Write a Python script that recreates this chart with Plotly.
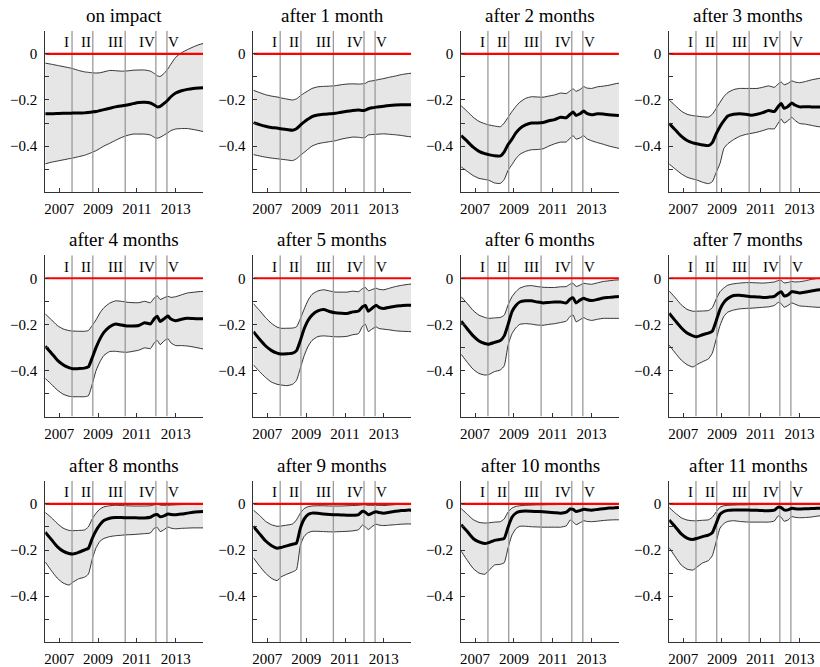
import plotly.graph_objects as go

# ---------------- data ----------------
DATES = [2006.28, 2006.6, 2006.9, 2007.2, 2007.5, 2007.7, 2008.0, 2008.3, 2008.5, 2008.7,
         2008.9, 2009.1, 2009.3, 2009.6, 2009.9, 2010.2, 2010.5, 2010.8, 2011.1, 2011.4,
         2011.7, 2011.9, 2012.05, 2012.2, 2012.4, 2012.6, 2012.75, 2013.0, 2013.3, 2013.6,
         2013.9, 2014.2, 2014.41]

EVENT_DATES = [2007.66, 2008.73, 2010.40, 2011.98, 2012.55]
EVENT_LABELS = ["I", "II", "III", "IV", "V"]
EVENT_LABEL_X = [2007.38, 2008.37, 2009.88, 2011.52, 2012.87]

TITLES = ["on impact", "after 1 month", "after 2 months", "after 3 months",
          "after 4 months", "after 5 months", "after 6 months", "after 7 months",
          "after 8 months", "after 9 months", "after 10 months", "after 11 months"]

X_TICKS = [2007, 2009, 2011, 2013]
Y_TICKS = [0.1, 0.0, -0.1, -0.2, -0.3, -0.4, -0.5, -0.6]
Y_TICK_TEXT = ["", "0", "", "\u22120.2", "", "\u22120.4", "", ""]

h0_up = [-0.040, -0.045, -0.050, -0.055, -0.060, -0.064, -0.072, -0.078, -0.080, -0.082, -0.083, -0.082, -0.078, -0.072, -0.073, -0.075, -0.074, -0.071, -0.070, -0.070, -0.075, -0.085, -0.095, -0.098, -0.085, -0.065, -0.045, -0.015, 0.005, 0.018, 0.030, 0.040, 0.045]
h0_med = [-0.260, -0.260, -0.259, -0.258, -0.258, -0.257, -0.257, -0.256, -0.254, -0.252, -0.250, -0.246, -0.242, -0.236, -0.230, -0.226, -0.222, -0.216, -0.211, -0.210, -0.213, -0.222, -0.230, -0.228, -0.215, -0.200, -0.186, -0.170, -0.160, -0.154, -0.150, -0.148, -0.147]
h0_lo = [-0.477, -0.470, -0.465, -0.460, -0.455, -0.452, -0.446, -0.440, -0.434, -0.427, -0.420, -0.410, -0.400, -0.388, -0.375, -0.363, -0.354, -0.348, -0.348, -0.348, -0.352, -0.362, -0.366, -0.362, -0.352, -0.342, -0.333, -0.326, -0.324, -0.324, -0.328, -0.333, -0.337]

h1_up = [-0.158, -0.168, -0.177, -0.183, -0.187, -0.191, -0.196, -0.200, -0.195, -0.182, -0.170, -0.160, -0.150, -0.143, -0.141, -0.140, -0.138, -0.134, -0.131, -0.130, -0.131, -0.130, -0.128, -0.120, -0.117, -0.114, -0.111, -0.107, -0.101, -0.096, -0.090, -0.086, -0.084]
h1_med = [-0.298, -0.307, -0.314, -0.319, -0.322, -0.325, -0.328, -0.331, -0.325, -0.309, -0.295, -0.283, -0.272, -0.265, -0.262, -0.260, -0.258, -0.253, -0.249, -0.246, -0.244, -0.246, -0.244, -0.238, -0.234, -0.231, -0.229, -0.227, -0.224, -0.222, -0.221, -0.221, -0.221]
h1_lo = [-0.437, -0.443, -0.448, -0.452, -0.455, -0.457, -0.460, -0.463, -0.455, -0.440, -0.427, -0.413, -0.400, -0.390, -0.385, -0.381, -0.377, -0.370, -0.365, -0.361, -0.362, -0.364, -0.362, -0.352, -0.350, -0.349, -0.348, -0.347, -0.349, -0.351, -0.354, -0.358, -0.360]

h2_up = [-0.225, -0.250, -0.275, -0.293, -0.303, -0.308, -0.313, -0.316, -0.300, -0.275, -0.250, -0.228, -0.210, -0.193, -0.186, -0.187, -0.188, -0.183, -0.178, -0.170, -0.172, -0.160, -0.152, -0.162, -0.155, -0.142, -0.148, -0.150, -0.143, -0.140, -0.136, -0.130, -0.127]
h2_med = [-0.355, -0.380, -0.405, -0.423, -0.433, -0.437, -0.442, -0.443, -0.425, -0.393, -0.370, -0.343, -0.324, -0.308, -0.300, -0.300, -0.298, -0.290, -0.285, -0.275, -0.277, -0.262, -0.252, -0.267, -0.260, -0.248, -0.258, -0.264, -0.260, -0.261, -0.264, -0.266, -0.267]
h2_lo = [-0.490, -0.510, -0.528, -0.540, -0.545, -0.548, -0.560, -0.562, -0.545, -0.505, -0.480, -0.455, -0.436, -0.423, -0.416, -0.415, -0.412, -0.400, -0.390, -0.383, -0.382, -0.365, -0.355, -0.370, -0.365, -0.355, -0.368, -0.377, -0.385, -0.392, -0.400, -0.406, -0.410]

h3_up = [-0.200, -0.225, -0.248, -0.262, -0.268, -0.270, -0.273, -0.274, -0.262, -0.237, -0.210, -0.185, -0.168, -0.155, -0.150, -0.150, -0.150, -0.150, -0.145, -0.139, -0.145, -0.130, -0.122, -0.134, -0.128, -0.117, -0.122, -0.125, -0.120, -0.113, -0.108, -0.104, -0.102]
h3_med = [-0.302, -0.330, -0.357, -0.376, -0.386, -0.390, -0.395, -0.398, -0.385, -0.347, -0.315, -0.290, -0.270, -0.262, -0.260, -0.262, -0.266, -0.262, -0.255, -0.246, -0.250, -0.228, -0.215, -0.236, -0.228, -0.213, -0.222, -0.230, -0.229, -0.230, -0.231, -0.231, -0.231]
h3_lo = [-0.478, -0.500, -0.520, -0.535, -0.543, -0.547, -0.557, -0.563, -0.555, -0.515, -0.475, -0.410, -0.390, -0.372, -0.358, -0.350, -0.345, -0.340, -0.333, -0.325, -0.325, -0.300, -0.283, -0.300, -0.290, -0.275, -0.288, -0.302, -0.305, -0.310, -0.315, -0.318, -0.320]

h4_up = [-0.155, -0.180, -0.205, -0.220, -0.227, -0.229, -0.230, -0.230, -0.227, -0.205, -0.180, -0.150, -0.128, -0.108, -0.098, -0.100, -0.104, -0.106, -0.106, -0.100, -0.106, -0.085, -0.076, -0.092, -0.085, -0.078, -0.083, -0.080, -0.072, -0.064, -0.061, -0.058, -0.057]
h4_med = [-0.295, -0.325, -0.355, -0.375, -0.388, -0.393, -0.392, -0.390, -0.385, -0.345, -0.300, -0.263, -0.235, -0.210, -0.198, -0.203, -0.207, -0.207, -0.205, -0.193, -0.198, -0.175, -0.165, -0.188, -0.176, -0.164, -0.177, -0.184, -0.178, -0.174, -0.175, -0.176, -0.176]
h4_lo = [-0.435, -0.460, -0.485, -0.503, -0.512, -0.514, -0.514, -0.514, -0.510, -0.460, -0.400, -0.362, -0.335, -0.318, -0.317, -0.320, -0.321, -0.317, -0.312, -0.302, -0.305, -0.280, -0.270, -0.288, -0.272, -0.262, -0.280, -0.292, -0.292, -0.294, -0.298, -0.303, -0.307]

h5_up = [-0.110, -0.140, -0.170, -0.195, -0.212, -0.217, -0.217, -0.216, -0.211, -0.175, -0.133, -0.095, -0.070, -0.055, -0.050, -0.055, -0.060, -0.060, -0.060, -0.056, -0.058, -0.045, -0.040, -0.054, -0.049, -0.043, -0.048, -0.050, -0.043, -0.036, -0.031, -0.027, -0.025]
h5_med = [-0.232, -0.265, -0.293, -0.313, -0.325, -0.329, -0.328, -0.325, -0.314, -0.270, -0.218, -0.182, -0.160, -0.142, -0.136, -0.144, -0.150, -0.152, -0.153, -0.146, -0.142, -0.124, -0.118, -0.143, -0.130, -0.117, -0.126, -0.131, -0.126, -0.121, -0.119, -0.117, -0.117]
h5_lo = [-0.376, -0.405, -0.430, -0.450, -0.460, -0.463, -0.466, -0.460, -0.443, -0.390, -0.335, -0.295, -0.270, -0.253, -0.250, -0.252, -0.254, -0.254, -0.252, -0.245, -0.240, -0.208, -0.200, -0.231, -0.220, -0.211, -0.218, -0.221, -0.224, -0.228, -0.230, -0.231, -0.232]

h6_up = [-0.080, -0.110, -0.140, -0.160, -0.170, -0.174, -0.172, -0.170, -0.160, -0.115, -0.080, -0.058, -0.043, -0.034, -0.032, -0.036, -0.039, -0.040, -0.040, -0.037, -0.036, -0.025, -0.022, -0.036, -0.030, -0.022, -0.024, -0.026, -0.020, -0.014, -0.011, -0.008, -0.007]
h6_med = [-0.186, -0.220, -0.250, -0.272, -0.283, -0.286, -0.278, -0.270, -0.250, -0.200, -0.145, -0.118, -0.103, -0.098, -0.098, -0.103, -0.107, -0.105, -0.103, -0.103, -0.107, -0.090, -0.085, -0.107, -0.095, -0.087, -0.092, -0.097, -0.092, -0.086, -0.083, -0.080, -0.079]
h6_lo = [-0.330, -0.365, -0.395, -0.413, -0.420, -0.418, -0.405, -0.398, -0.380, -0.290, -0.240, -0.215, -0.200, -0.197, -0.199, -0.203, -0.204, -0.200, -0.197, -0.192, -0.186, -0.165, -0.160, -0.189, -0.180, -0.171, -0.178, -0.183, -0.178, -0.174, -0.174, -0.174, -0.174]

h7_up = [-0.055, -0.085, -0.115, -0.135, -0.143, -0.143, -0.142, -0.140, -0.128, -0.090, -0.058, -0.042, -0.030, -0.024, -0.021, -0.019, -0.019, -0.020, -0.021, -0.019, -0.016, -0.010, -0.010, -0.020, -0.018, -0.014, -0.016, -0.015, -0.011, -0.005, -0.001, 0.001, 0.002]
h7_med = [-0.152, -0.185, -0.215, -0.238, -0.250, -0.254, -0.245, -0.238, -0.230, -0.185, -0.135, -0.105, -0.088, -0.075, -0.074, -0.077, -0.080, -0.081, -0.083, -0.082, -0.079, -0.065, -0.058, -0.076, -0.072, -0.058, -0.060, -0.064, -0.060, -0.055, -0.051, -0.048, -0.046]
h7_lo = [-0.290, -0.325, -0.355, -0.375, -0.385, -0.375, -0.362, -0.350, -0.325, -0.265, -0.205, -0.165, -0.147, -0.138, -0.133, -0.131, -0.130, -0.128, -0.126, -0.124, -0.118, -0.105, -0.110, -0.126, -0.118, -0.107, -0.112, -0.120, -0.122, -0.124, -0.126, -0.126, -0.126]

h8_up = [-0.037, -0.060, -0.085, -0.105, -0.115, -0.116, -0.115, -0.113, -0.100, -0.065, -0.040, -0.022, -0.013, -0.008, -0.006, -0.007, -0.008, -0.009, -0.009, -0.009, -0.008, -0.004, -0.001, -0.005, -0.006, -0.006, -0.005, -0.004, -0.003, -0.002, -0.001, 0.000, 0.000]
h8_med = [-0.123, -0.155, -0.185, -0.205, -0.215, -0.217, -0.210, -0.200, -0.193, -0.150, -0.115, -0.090, -0.072, -0.062, -0.059, -0.059, -0.060, -0.060, -0.061, -0.061, -0.058, -0.048, -0.046, -0.056, -0.052, -0.044, -0.046, -0.047, -0.044, -0.040, -0.036, -0.034, -0.033]
h8_lo = [-0.252, -0.290, -0.322, -0.343, -0.352, -0.340, -0.325, -0.318, -0.305, -0.240, -0.190, -0.162, -0.150, -0.142, -0.138, -0.136, -0.134, -0.133, -0.131, -0.129, -0.126, -0.105, -0.102, -0.120, -0.112, -0.100, -0.105, -0.108, -0.106, -0.105, -0.104, -0.104, -0.104]

h9_up = [-0.027, -0.050, -0.075, -0.090, -0.097, -0.096, -0.092, -0.087, -0.069, -0.040, -0.020, -0.012, -0.009, -0.008, -0.008, -0.009, -0.009, -0.009, -0.008, -0.007, -0.006, -0.004, -0.004, -0.006, -0.006, -0.006, -0.006, -0.007, -0.005, -0.003, -0.001, 0.000, 0.000]
h9_med = [-0.098, -0.130, -0.160, -0.180, -0.192, -0.189, -0.182, -0.175, -0.170, -0.105, -0.065, -0.046, -0.040, -0.041, -0.044, -0.046, -0.047, -0.048, -0.049, -0.049, -0.046, -0.032, -0.036, -0.047, -0.040, -0.034, -0.037, -0.040, -0.036, -0.032, -0.029, -0.027, -0.027]
h9_lo = [-0.234, -0.270, -0.300, -0.322, -0.333, -0.317, -0.305, -0.295, -0.285, -0.180, -0.140, -0.125, -0.119, -0.119, -0.120, -0.121, -0.121, -0.120, -0.119, -0.117, -0.112, -0.092, -0.100, -0.111, -0.098, -0.088, -0.092, -0.094, -0.092, -0.090, -0.088, -0.087, -0.087]

h10_up = [-0.020, -0.045, -0.068, -0.080, -0.083, -0.082, -0.079, -0.077, -0.065, -0.035, -0.018, -0.011, -0.008, -0.006, -0.005, -0.004, -0.004, -0.003, -0.003, -0.002, -0.002, -0.001, -0.001, -0.002, -0.002, -0.001, -0.001, -0.001, 0.000, 0.000, 0.000, 0.000, 0.000]
h10_med = [-0.090, -0.120, -0.150, -0.165, -0.172, -0.168, -0.158, -0.154, -0.150, -0.100, -0.058, -0.040, -0.033, -0.031, -0.032, -0.033, -0.034, -0.036, -0.038, -0.040, -0.036, -0.022, -0.024, -0.033, -0.029, -0.023, -0.025, -0.027, -0.024, -0.021, -0.018, -0.017, -0.016]
h10_lo = [-0.205, -0.245, -0.280, -0.300, -0.305, -0.290, -0.265, -0.262, -0.255, -0.190, -0.135, -0.108, -0.097, -0.097, -0.099, -0.100, -0.101, -0.101, -0.101, -0.101, -0.095, -0.070, -0.078, -0.090, -0.082, -0.073, -0.076, -0.077, -0.075, -0.072, -0.070, -0.069, -0.069]

h11_up = [-0.016, -0.040, -0.060, -0.070, -0.073, -0.073, -0.071, -0.069, -0.058, -0.035, -0.014, -0.008, -0.006, -0.005, -0.004, -0.004, -0.003, -0.003, -0.002, -0.002, -0.002, -0.001, -0.001, -0.002, -0.002, -0.001, -0.001, -0.001, 0.000, 0.000, 0.000, 0.000, 0.000]
h11_med = [-0.070, -0.100, -0.130, -0.148, -0.154, -0.150, -0.142, -0.135, -0.125, -0.085, -0.045, -0.033, -0.028, -0.026, -0.026, -0.026, -0.027, -0.028, -0.029, -0.030, -0.027, -0.014, -0.016, -0.026, -0.026, -0.019, -0.021, -0.022, -0.021, -0.020, -0.019, -0.018, -0.018]
h11_lo = [-0.190, -0.230, -0.265, -0.283, -0.287, -0.275, -0.256, -0.246, -0.225, -0.165, -0.105, -0.085, -0.076, -0.073, -0.076, -0.078, -0.079, -0.079, -0.079, -0.079, -0.074, -0.052, -0.058, -0.075, -0.070, -0.055, -0.058, -0.060, -0.059, -0.057, -0.053, -0.051, -0.050]

UPPER = [h0_up, h1_up, h2_up, h3_up, h4_up, h5_up, h6_up, h7_up, h8_up, h9_up, h10_up, h11_up]
MEDIAN = [h0_med, h1_med, h2_med, h3_med, h4_med, h5_med, h6_med, h7_med, h8_med, h9_med, h10_med, h11_med]
LOWER = [h0_lo, h1_lo, h2_lo, h3_lo, h4_lo, h5_lo, h6_lo, h7_lo, h8_lo, h9_lo, h10_lo, h11_lo]

# ---------------- layout geometry (pixels) ----------------
W, H = 820, 667
COL_LEFT = [44.3, 252.7, 460.7, 669.0]
PANEL_W = 158.0
ROW_TOP = [31.2, 258.3, 486.7]
PANEL_H = 163.3
X_START, X_END = 2006.28, 2014.41
Y_MIN, Y_MAX = -0.6, 0.1

FONT = "Liberation Serif"
BAND_FILL = "#e6e6e6"

fig = go.Figure()
axes = {}

for k in range(12):
    r, c = divmod(k, 4)
    n = k + 1
    xa = "x" if n == 1 else f"x{n}"
    ya = "y" if n == 1 else f"y{n}"
    left = COL_LEFT[c]
    right = min(left + PANEL_W, W)
    x_end = X_START + (X_END - X_START) * (right - left) / PANEL_W
    top = ROW_TOP[r]
    bottom = top + PANEL_H

    fig.add_trace(go.Scatter(x=DATES, y=LOWER[k], mode="lines", xaxis=xa, yaxis=ya,
                             line=dict(color="black", width=0.8, shape="spline", smoothing=0.5),
                             hoverinfo="skip"))
    fig.add_trace(go.Scatter(x=DATES, y=UPPER[k], mode="lines", xaxis=xa, yaxis=ya,
                             fill="tonexty", fillcolor=BAND_FILL,
                             line=dict(color="black", width=0.8, shape="spline", smoothing=0.5),
                             hoverinfo="skip"))
    for ev in EVENT_DATES:
        fig.add_trace(go.Scatter(x=[ev, ev], y=[Y_MIN, Y_MAX], mode="lines", xaxis=xa, yaxis=ya,
                                 line=dict(color="#9a9a9a", width=1.3), hoverinfo="skip"))
    fig.add_trace(go.Scatter(x=DATES, y=MEDIAN[k], mode="lines", xaxis=xa, yaxis=ya,
                             line=dict(color="black", width=3, shape="spline", smoothing=0.5),
                             hoverinfo="skip"))
    fig.add_trace(go.Scatter(x=[X_START, X_END], y=[0, 0], mode="lines", xaxis=xa, yaxis=ya,
                             line=dict(color="#ff0000", width=2.2), hoverinfo="skip"))

    axis_common = dict(showline=True, linecolor="#333333", linewidth=1, mirror=False,
                       ticks="inside", ticklen=4, tickcolor="#333333", tickwidth=1,
                       showgrid=False, zeroline=False,
                       tickfont=dict(family=FONT, size=15, color="black"))
    axes["xaxis" if n == 1 else f"xaxis{n}"] = dict(
        domain=[left / W, right / W], anchor=ya, range=[X_START, x_end],
        tickvals=X_TICKS, ticktext=[str(t) for t in X_TICKS], ticklabelstandoff=3,
        **axis_common)
    axes["yaxis" if n == 1 else f"yaxis{n}"] = dict(
        domain=[1 - bottom / H, 1 - top / H], anchor=xa, range=[Y_MIN, Y_MAX],
        tickvals=Y_TICKS, ticktext=Y_TICK_TEXT, ticklabelstandoff=4,
        **axis_common)

    fig.add_annotation(text=TITLES[k], x=(left + PANEL_W / 2) / W,
                       y=1 - (top - 16) / H, xref="paper", yref="paper",
                       xanchor="center", yanchor="middle", showarrow=False,
                       font=dict(family=FONT, size=19, color="black"))
    for lab, lx in zip(EVENT_LABELS, EVENT_LABEL_X):
        fig.add_annotation(text=lab, x=lx, y=0.05, xref=xa, yref=ya,
                           xanchor="center", yanchor="middle", showarrow=False,
                           font=dict(family=FONT, size=15, color="black"))

fig.update_layout(width=W, height=H, margin=dict(l=0, r=0, t=0, b=0),
                  paper_bgcolor="white", plot_bgcolor="white", showlegend=False,
                  font=dict(family=FONT, size=15, color="black"), **axes)
fig.write_html("out.html")
